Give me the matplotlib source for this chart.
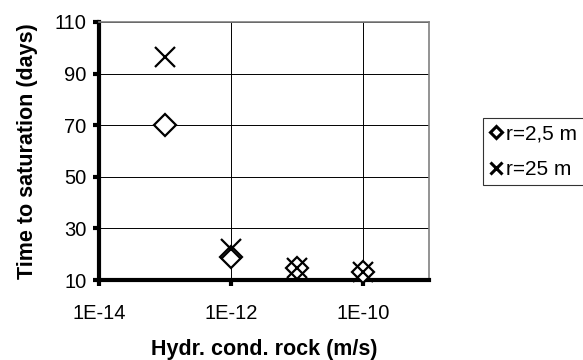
import matplotlib
matplotlib.use("Agg")
import matplotlib.pyplot as plt
from matplotlib.ticker import FixedLocator, FixedFormatter

plt.rcParams["font.family"] = ["Liberation Sans", "DejaVu Sans"]

# data
hydr_cond = [1e-13, 1e-12, 1e-11, 1e-10]
time_r25 = [70, 19, 14.5, 13]    # r=2,5 m
time_r250 = [96.5, 22, 14.5, 13]  # r=25 m

x_ticks = [1e-14, 1e-12, 1e-10]
x_tick_labels = ["1E-14", "1E-12", "1E-10"]
y_ticks = [10, 30, 50, 70, 90, 110]

fig = plt.figure(figsize=(5.83, 3.60), dpi=100)
ax = fig.add_axes([0.170, 0.222, 0.566, 0.717])

ax.plot(hydr_cond, time_r25, linestyle="none", marker="D", markersize=11,
        markerfacecolor="white", markeredgecolor="black", markeredgewidth=1.6,
        label="r=2,5 m", zorder=3, clip_on=False)
ax.plot(hydr_cond, time_r250, linestyle="none", marker="x", markersize=15,
        markeredgecolor="black", markeredgewidth=1.6,
        label="r=25 m", zorder=4, clip_on=False)

ax.set_xscale("log")
ax.set_xlim(1e-14, 1e-9)
ax.set_ylim(10, 110)
ax.xaxis.set_major_locator(FixedLocator(x_ticks))
ax.xaxis.set_major_formatter(FixedFormatter(x_tick_labels))
ax.xaxis.set_minor_locator(FixedLocator([]))
ax.set_yticks(y_ticks)

ax.grid(True, color="black", linewidth=0.7)
ax.set_axisbelow(True)

for side in ["left", "bottom"]:
    ax.spines[side].set_linewidth(3)
    ax.spines[side].set_color("black")
for side in ["top", "right"]:
    ax.spines[side].set_linewidth(1.2)
    ax.spines[side].set_color("#808080")

ax.tick_params(axis="both", direction="out", length=4, width=3,
               labelsize=14.5, pad=5)
ax.tick_params(axis="x", pad=13)

ax.set_xlabel("Hydr. cond. rock (m/s)", fontsize=15.5, fontweight="bold", labelpad=12)
ax.set_ylabel("Time to saturation (days)", fontsize=15.5, fontweight="bold", labelpad=12)

# legend box starts near x=483, y=118 px and runs off the right edge
leg = fig.legend(loc="upper left", bbox_to_anchor=(0.828, 0.672, 0.3, 0),
                 mode="expand", fontsize=15, frameon=True, fancybox=False,
                 edgecolor="black", handlelength=0.7, handletextpad=0.1,
                 borderpad=0.3, labelspacing=0.8, borderaxespad=0,
                 markerscale=0.6)
leg.get_frame().set_linewidth(0.8)
for h in leg.legend_handles:
    h.set_markeredgewidth(2.2)

fig.savefig("out.png", dpi=100)
